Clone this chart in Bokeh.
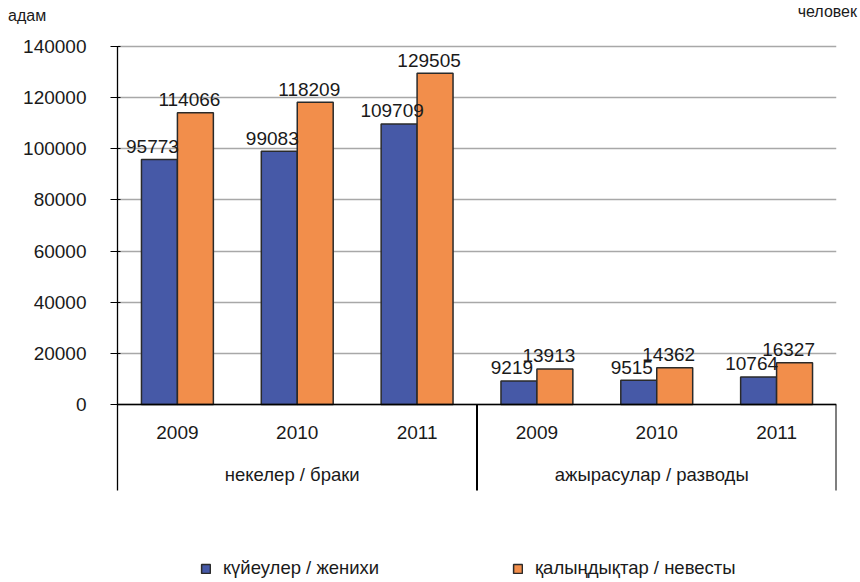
from bokeh.plotting import figure
from bokeh.layouts import column
from bokeh.models import (FactorRange, Range1d, FixedTicker, ColumnDataSource,
                          Legend, LegendItem, Span, Div)
from bokeh.transform import dodge
from bokeh.core.properties import value
from bokeh.embed import file_html
from bokeh.resources import INLINE

# ---- data ----
groups = ["некелер / браки", "ажырасулар / разводы"]
years = ["2009", "2010", "2011"]
grooms = [95773, 99083, 109709, 9219, 9515, 10764]
brides = [114066, 118209, 129505, 13913, 14362, 16327]
series_names = ["күйеулер / женихи", "қалыңдықтар / невесты"]
y_ticks = [0, 20000, 40000, 60000, 80000, 100000, 120000, 140000]
unit_left = "адам"
unit_right = "человек"

FONT = "Liberation Sans"
TXT = "#1a1a1a"
BLUE = "#4659A7"
ORANGE = "#F28E4B"
EDGE = "#2a2a2a"

W = 860
TOP_H = 26
MAIN_H = 554

# ---- unit captions strip ----
top = Div(
    text=(f'<div style="position:relative;width:{W}px;height:{TOP_H}px;'
          f'font-family:\'{FONT}\';font-size:16px;line-height:18px;color:{TXT};">'
          f'<span style="position:absolute;left:8px;top:7px;">{unit_left}</span>'
          f'<span style="position:absolute;right:3px;top:3px;">{unit_right}</span>'
          f'</div>'),
    width=W, height=TOP_H, margin=0)

# ---- main chart ----
factors = [(g, y) for g in groups for y in years]
src = ColumnDataSource(dict(
    x=factors,
    grooms=grooms,
    brides=brides,
    glab=[str(v) for v in grooms],
    blab=[str(v) for v in brides],
    year=[f[1] for f in factors],
))

px = 140000 / 358.0          # value per pixel
y_top = 140000 + 20 * px
y_bot = -176 * px
y_sep = -86 * px

p = figure(width=W, height=MAIN_H,
           x_range=FactorRange(*factors, factor_padding=0, group_padding=0, range_padding=0),
           y_range=Range1d(y_bot, y_top),
           output_backend="svg", toolbar_location=None, x_axis_location=None,
           min_border_left=117, min_border_right=24,
           min_border_top=0, min_border_bottom=0)
p.outline_line_color = None
p.xgrid.visible = False

p.yaxis.bounds = (y_sep, 140000)
p.yaxis.ticker = FixedTicker(ticks=y_ticks)
p.ygrid.ticker = FixedTicker(ticks=y_ticks)
p.ygrid.grid_line_color = "#a8a8a8"
p.ygrid.grid_line_width = 1.5
p.yaxis.minor_tick_line_color = None
p.yaxis.major_tick_out = 7
p.yaxis.major_tick_in = 3
p.yaxis.major_tick_line_color = "black"
p.yaxis.axis_line_color = "black"
p.yaxis.axis_line_width = 1.3
p.yaxis.major_label_standoff = 24
p.yaxis.major_label_text_font = FONT
p.yaxis.major_label_text_font_size = "19px"
p.yaxis.major_label_text_color = TXT
p.yaxis.formatter.use_scientific = False

r1 = p.vbar(x=dodge("x", -0.15, range=p.x_range), top="grooms", width=0.3,
            source=src, fill_color=BLUE, line_color=EDGE, line_width=1.5)
r2 = p.vbar(x=dodge("x", 0.15, range=p.x_range), top="brides", width=0.3,
            source=src, fill_color=ORANGE, line_color=EDGE, line_width=1.5)

p.add_layout(Span(location=0, dimension="width", line_color="black", line_width=1.5))

# value labels
p.text(x=dodge("x", -0.15, range=p.x_range), y="grooms", text="glab", source=src,
       text_align="center", text_baseline="middle", x_offset=-7, y_offset=-13,
       text_font=value(FONT), text_font_size="19px", text_color=TXT)
p.text(x=dodge("x", 0.15, range=p.x_range), y="brides", text="blab", source=src,
       text_align="center", text_baseline="middle", x_offset=-6, y_offset=-13,
       text_font=value(FONT), text_font_size="19px", text_color=TXT)

# category labels below the zero line
p.text(x="x", y=-28 * px, text="year", source=src,
       text_align="center", text_baseline="middle",
       text_font=value(FONT), text_font_size="19px", text_color=TXT)
p.text(x=groups, y=[-70 * px] * len(groups), text=groups,
       text_align="center", text_baseline="middle", x_offset=-5,
       text_font=value(FONT), text_font_size="18.5px", text_color=TXT)

# group separators
p.segment(x0=[3, 6], y0=[0, 0], x1=[3, 6], y1=[y_sep, y_sep],
          line_color="black", line_width=2)

# legends (inside the frame, at its bottom)
def make_leg(name, r, loc):
    leg = Legend(items=[LegendItem(label=name, renderers=[r])], location=loc,
                 orientation="horizontal", glyph_width=11, glyph_height=11,
                 label_standoff=12, padding=0, margin=0, spacing=0,
                 border_line_color=None, background_fill_alpha=0,
                 label_text_font=FONT, label_text_font_size="18.5px",
                 label_text_color=TXT, label_height=18)
    p.add_layout(leg)

make_leg(series_names[0], r1, (83, 1))
make_leg(series_names[1], r2, (395, 1))

layout = column(top, p, spacing=0)
open("out.html", "w").write(file_html(layout, INLINE))
